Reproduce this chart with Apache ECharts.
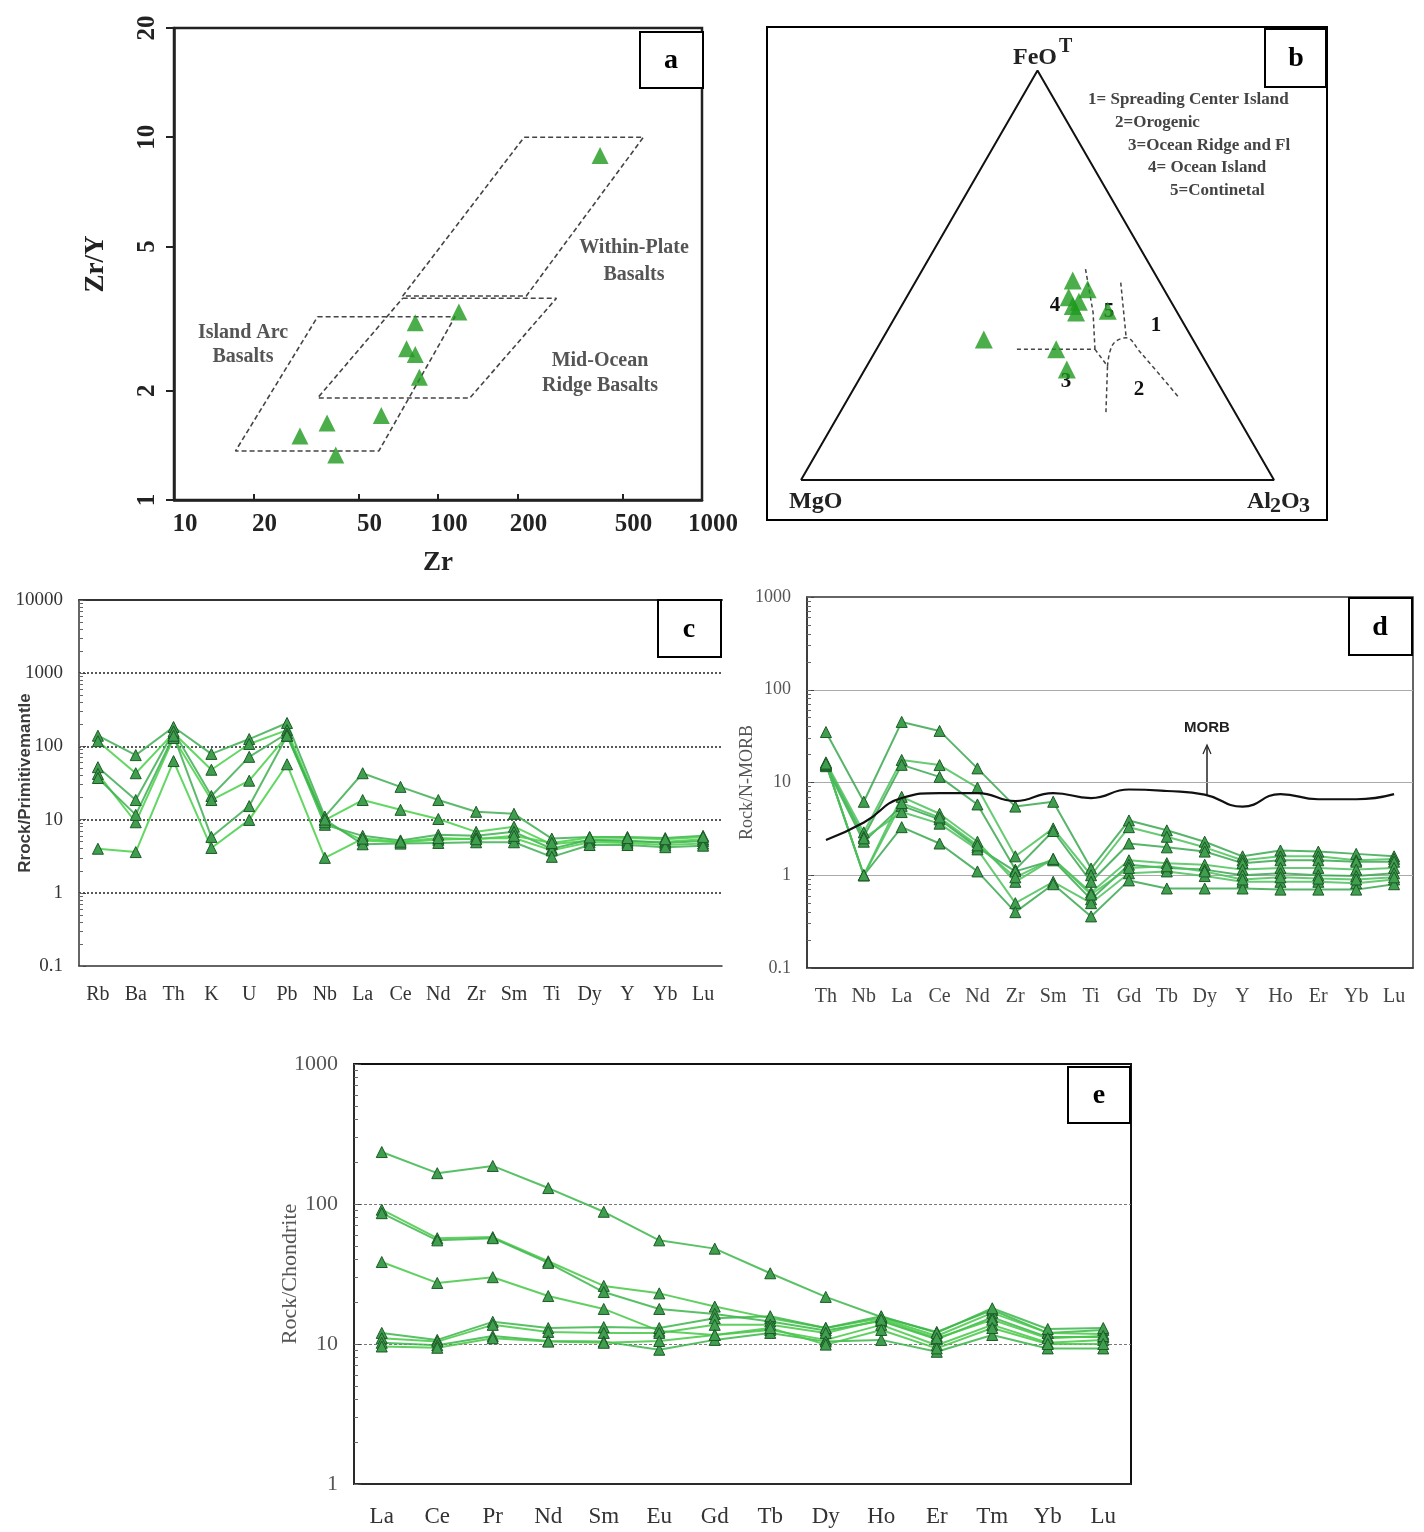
<!DOCTYPE html>
<html>
<head>
<meta charset="utf-8">
<script src="https://cdn.jsdelivr.net/npm/echarts@6/dist/echarts.min.js"></script>
<style>
  html, body { margin: 0; padding: 0; background: #fff; }
  #chart { width: 1424px; height: 1532px; }
</style>
</head>
<body>
<div id="chart"></div>
<script>
// ---- panel a : Zr vs Zr/Y ----
const aZr = [411, 120, 82, 76, 82, 85, 61, 38, 30, 41]
const aZrY = [8.9, 3.3, 3.08, 2.61, 2.52, 2.18, 1.71, 1.63, 1.5, 1.33]
const aWPB = [[212, 10], [600, 10], [216, 3.65], [73.5, 3.65], [212, 10]]
const aMORB = [[73.5, 3.6], [281, 3.6], [132, 1.91], [35, 1.91], [73.5, 3.6]]
const aIAB = [[35, 3.2], [116, 3.2], [59.7, 1.365], [17.1, 1.365], [35, 3.2]]
const aXTicks = [10, 20, 50, 100, 200, 500, 1000]
const aYTicks = [1, 2, 5, 10, 20]

// ---- panel b : FeOT - MgO - Al2O3 (wt% ratios) ----
const bFeO = [48.7, 46.6, 44.6, 42.5, 40.9, 41.3, 34.3, 31.9, 27.0, 43.5]
const bMgO = [18.2, 16.1, 21.1, 21.3, 21.4, 14.5, 44.2, 30.1, 30.3, 19.5]
const bAl2O3 = [33.1, 37.3, 34.3, 36.2, 37.7, 44.2, 21.5, 38.0, 42.7, 37.0]
// boundary lines as [FeO, MgO, Al2O3]
const bLineA = [[51.5, 14.1, 34.4], [40.9, 17.8, 41.3], [31.9, 21.9, 46.2]]
const bLineB = [[31.9, 38.4, 29.7], [31.9, 21.9, 46.2]]
const bLineC = [[31.9, 21.9, 46.2], [27.8, 21.3, 50.9], [15.9, 27.6, 56.5]]
const bLineD = [[27.8, 21.3, 50.9], [33.1, 17.5, 49.4], [34.7, 13.9, 51.4], [31.3, 12.7, 56.0], [20.4, 10.1, 69.5]]
const bLineE = [[48.2, 8.3, 43.5], [34.7, 13.9, 51.4]]

// ---- panel c : primitive mantle normalised ----
const cCats = ['Rb', 'Ba', 'Th', 'K', 'U', 'Pb', 'Nb', 'La', 'Ce', 'Nd', 'Zr', 'Sm', 'Ti', 'Dy', 'Y', 'Yb', 'Lu']
const c1 = [140, 76, 184, 79, 126, 209, 11, 43, 28, 18.5, 12.8, 12, 5.5, 5.8, 5.8, 5.6, 6.0]
const c2 = [118, 43, 152, 48, 108, 167, 9.8, 18.5, 13.6, 10.2, 6.8, 8.0, 4.6, 5.2, 5.0, 5.0, 5.4]
const c3 = [52, 18.5, 160, 21, 72, 150, 8.5, 6.0, 5.2, 6.2, 6.0, 6.8, 4.0, 5.3, 5.2, 4.8, 5.1]
const c4 = [42, 9.2, 130, 18.5, 34, 139, 9.2, 5.2, 4.9, 5.3, 5.5, 5.6, 3.8, 4.9, 4.8, 4.5, 4.7]
const c5 = [37, 11.6, 140, 5.8, 15.3, 140, 10, 4.6, 4.7, 4.8, 4.9, 4.9, 3.1, 4.5, 4.5, 4.2, 4.4]
const c6 = [4.0, 3.6, 63, 4.1, 9.9, 57, 3.0, 5.5, 5.0, 5.6, 5.4, 6.0, 4.8, 5.7, 5.6, 5.4, 5.8]

// ---- panel d : N-MORB normalised ----
const dCats = ['Th', 'Nb', 'La', 'Ce', 'Nd', 'Zr', 'Sm', 'Ti', 'Gd', 'Tb', 'Dy', 'Y', 'Ho', 'Er', 'Yb', 'Lu']
const dMorb = [2.4, 3.7, 6.8, 7.7, 7.7, 6.3, 7.7, 6.8, 8.4, 8.1, 7.4, 5.5, 7.5, 6.6, 6.6, 7.5]
const d1 = [35, 6.2, 45, 36, 14.2, 5.5, 6.2, 1.18, 3.9, 3.05, 2.3, 1.6, 1.85, 1.8, 1.7, 1.6]
const d2 = [16.5, 2.9, 17.5, 15.4, 8.8, 1.6, 3.2, 1.0, 3.3, 2.6, 2.0, 1.45, 1.6, 1.6, 1.45, 1.5]
const d3 = [15.5, 2.6, 15.5, 11.5, 5.8, 1.15, 3.0, 0.85, 2.2, 2.0, 1.8, 1.35, 1.45, 1.45, 1.4, 1.4]
const d4 = [16, 1.0, 7.0, 4.6, 2.3, 0.85, 1.5, 0.65, 1.45, 1.35, 1.3, 1.15, 1.2, 1.2, 1.15, 1.2]
const d5 = [15, 2.3, 5.6, 4.0, 2.0, 1.1, 1.45, 0.55, 1.3, 1.2, 1.15, 1.0, 1.05, 1.0, 0.98, 1.05]
const d6 = [15.5, 2.5, 4.8, 3.6, 1.9, 0.5, 0.85, 0.5, 1.05, 1.1, 0.98, 0.85, 0.85, 0.85, 0.82, 0.9]
const d7 = [16, 1.0, 3.3, 2.2, 1.1, 0.4, 0.8, 0.36, 0.88, 0.72, 0.72, 0.72, 0.7, 0.7, 0.7, 0.8]
const d8 = [16, 1.0, 6.0, 4.2, 2.1, 0.95, 1.5, 0.62, 1.2, 1.25, 1.1, 0.9, 0.95, 0.92, 0.9, 0.95]

// ---- panel e : chondrite normalised REE ----
const eCats = ['La', 'Ce', 'Pr', 'Nd', 'Sm', 'Eu', 'Gd', 'Tb', 'Dy', 'Ho', 'Er', 'Tm', 'Yb', 'Lu']
const e1 = [235, 166, 187, 130, 88, 55, 48, 32, 21.7, 15.6, 12.2, 17.5, 12.0, 12.6]
const e2 = [91, 57, 58, 39, 26, 23, 18.5, 15.3, 13, 15.3, 11.4, 16.7, 12, 11.8]
const e3 = [86, 55, 57, 38, 23.5, 17.8, 16.4, 14.5, 12.5, 14.6, 10.8, 15.5, 11.2, 11.2]
const e4 = [38.5, 27.3, 30, 22, 17.8, 12.4, 11.6, 12.6, 10.7, 13.7, 9.8, 13.7, 10.2, 10.7]
const e5 = [12, 10.7, 14.4, 13, 13.2, 13, 15.3, 15.8, 13, 15.8, 12, 18, 12.8, 13]
const e6 = [11, 10.4, 13.7, 12.2, 12, 12, 13.7, 13.7, 12, 14.9, 11, 14.9, 11, 11.4]
const e7 = [10.2, 9.8, 11.4, 10.5, 10.4, 9.1, 10.7, 12, 10.4, 10.7, 8.8, 11.6, 9.3, 9.3]
const e8 = [9.6, 9.4, 11, 10.4, 10.2, 10.5, 11.6, 13, 9.9, 12.6, 9.3, 13, 10, 10]

const SERIF = '"Liberation Serif", "DejaVu Serif", serif'
const SANS = '"Liberation Sans", Arial, sans-serif'
const GREEN = '#1e9a1e'

// ternary -> cartesian (MgO at left, Al2O3 at right, FeOT on top)
const tern = (fe, mg, al) => {
  const s = fe + mg + al
  return [(al + fe / 2) / s, (fe * Math.sqrt(3) / 2) / s]
}

// minor tick positions on log axes
const minorTicks = (lo, hi) => {
  const out = []
  for (let p = lo; p < hi; p++) {
    for (let k = 1; k <= 9; k++) out.push(+(k * Math.pow(10, p)).toPrecision(3))
  }
  out.push(Math.pow(10, hi))
  return out
}

const plain = v => String(+(+v).toPrecision(6))

const chart = echarts.init(document.getElementById('chart'), null, { renderer: 'canvas' })

const profile = (name, xi, yi, data, color) => ({
  name,
  type: 'line',
  xAxisIndex: xi,
  yAxisIndex: yi,
  data,
  symbol: 'triangle',
  symbolSize: 11,
  lineStyle: { color, width: 2, opacity: 0.85 },
  itemStyle: { color: '#3f9f4f', borderColor: '#1c5a26', borderWidth: 1 },
  z: 3
})

const dashed = (name, xi, yi, data) => ({
  name,
  type: 'line',
  xAxisIndex: xi,
  yAxisIndex: yi,
  data,
  symbol: 'none',
  lineStyle: { color: '#444', width: 1.6, type: [5, 3] },
  z: 2
})

const catAxis = (grid, cats, fontSize, color, margin) => ({
  type: 'category',
  gridIndex: grid,
  data: cats,
  boundaryGap: true,
  axisLine: { lineStyle: { color: '#333', width: 1.5 } },
  axisTick: { inside: true, alignWithLabel: true, length: 5, lineStyle: { color: '#666' } },
  axisLabel: { fontFamily: SERIF, fontSize, color, margin },
  splitLine: { show: false }
})

const logAxis = (grid, min, max, fontSize, color, split, extra) => Object.assign({
  type: 'log',
  logBase: 10,
  gridIndex: grid,
  position: 'left',
  min,
  max,
  nameMoveOverlap: false,
  axisLine: { show: true, lineStyle: { color: '#333', width: 1.5 } },
  axisTick: { show: true, inside: true, length: 7, lineStyle: { color: '#444' } },
  axisLabel: { fontFamily: SERIF, fontSize, color, margin: 16, formatter: plain },
  splitLine: { show: true, showMinLine: false, showMaxLine: false, lineStyle: split }
}, extra)

const minorAxis = (grid, min, max, lo, hi) => ({
  type: 'log',
  logBase: 10,
  gridIndex: grid,
  position: 'left',
  min,
  max,
  axisLine: { show: false },
  axisLabel: { show: false },
  splitLine: { show: false },
  axisTick: { show: true, inside: true, length: 4, customValues: minorTicks(lo, hi), lineStyle: { color: '#666' } }
})

const bTri = [tern(0, 100, 0), tern(0, 0, 100), tern(100, 0, 0), tern(0, 100, 0)]

const option = {
  backgroundColor: '#fff',
  animation: false,
  grid: [
    { left: 174, top: 28, width: 528, height: 472, show: true, borderColor: '#222', borderWidth: 2.5, outerBoundsMode: 'none', containLabel: false },
    { left: 801, top: 70.4, width: 473, height: 409.6, outerBoundsMode: 'none', containLabel: false },
    { left: 79, top: 600, width: 643, height: 366, outerBoundsMode: 'none', containLabel: false },
    { left: 807, top: 597, width: 606, height: 371, show: true, borderColor: '#333', borderWidth: 1.5, outerBoundsMode: 'none', containLabel: false },
    { left: 354, top: 1064, width: 777, height: 420, show: true, borderColor: '#111', borderWidth: 2, outerBoundsMode: 'none', containLabel: false }
  ],
  xAxis: [
    {
      type: 'log', logBase: 10, gridIndex: 0, min: 10, max: 1000,
      name: 'Zr', nameLocation: 'middle', nameGap: 50, nameMoveOverlap: false,
      nameTextStyle: { fontFamily: SERIF, fontWeight: 'bold', fontSize: 27, color: '#222' },
      axisLine: { lineStyle: { color: '#222', width: 2.5 } },
      axisTick: { inside: true, length: 6, customValues: aXTicks, lineStyle: { color: '#222', width: 2 } },
      axisLabel: { customValues: aXTicks, formatter: plain, fontFamily: SERIF, fontWeight: 'bold', fontSize: 25, color: '#222', margin: 12, padding: [0, 0, 0, 22] },
      splitLine: { show: false }
    },
    { type: 'value', gridIndex: 1, min: 0, max: 1, show: false },
    catAxis(2, cCats, 20, '#333', 19),
    { type: 'category', gridIndex: 2, position: 'top', data: cCats, axisLine: { lineStyle: { color: '#333', width: 2 } }, axisTick: { show: false }, axisLabel: { show: false } },
    catAxis(3, dCats, 20, '#444', 19),
    catAxis(4, eCats, 23, '#333', 21)
  ],
  yAxis: [
    {
      type: 'log', logBase: 10, gridIndex: 0, min: 1, max: 20,
      name: 'Zr/Y', nameLocation: 'middle', nameGap: 64, nameRotate: 90, nameMoveOverlap: false,
      nameTextStyle: { fontFamily: SERIF, fontWeight: 'bold', fontSize: 27, color: '#222' },
      axisLine: { lineStyle: { color: '#222', width: 2.5 } },
      axisTick: { inside: false, length: 8, customValues: aYTicks, lineStyle: { color: '#222', width: 2 } },
      axisLabel: { customValues: aYTicks, formatter: plain, rotate: 90, fontFamily: SERIF, fontWeight: 'bold', fontSize: 25, color: '#222', margin: 14 },
      splitLine: { show: false }
    },
    { type: 'value', gridIndex: 1, min: 0, max: Math.sqrt(3) / 2, show: false },
    logAxis(2, 0.1, 10000, 19, '#333', { color: '#222', type: [2, 2], width: 1.5 }, {
      name: 'Rrock/Primitivemantle', nameLocation: 'middle', nameGap: 45,
      nameTextStyle: { fontFamily: SANS, fontWeight: 'bold', fontSize: 17, color: '#3a3a3a' }
    }),
    minorAxis(2, 0.1, 10000, -1, 4),
    logAxis(3, 0.1, 1000, 18, '#555', { color: '#aaa', type: 'solid', width: 1.2 }, {
      name: 'Rock/N-MORB', nameLocation: 'middle', nameGap: 51,
      nameTextStyle: { fontFamily: SERIF, fontSize: 18, color: '#555' }
    }),
    minorAxis(3, 0.1, 1000, -1, 3),
    logAxis(4, 1, 1000, 22, '#555', { color: '#777', type: [3, 2], width: 1.2 }, {
      name: 'Rock/Chondrite', nameLocation: 'middle', nameGap: 53,
      nameTextStyle: { fontFamily: SERIF, fontSize: 22, color: '#555' }
    }),
    minorAxis(4, 1, 1000, 0, 3)
  ],
  series: [
    // panel a
    dashed('WPB', 0, 0, aWPB),
    dashed('MORB', 0, 0, aMORB),
    dashed('IAB', 0, 0, aIAB),
    {
      name: 'samples a', type: 'scatter', xAxisIndex: 0, yAxisIndex: 0,
      data: aZr.map((z, i) => [z, aZrY[i]]),
      symbol: 'triangle', symbolSize: 17, itemStyle: { color: GREEN }, z: 4
    },
    // panel b
    {
      name: 'triangle', type: 'line', xAxisIndex: 1, yAxisIndex: 1, data: bTri,
      symbol: 'none', lineStyle: { color: '#111', width: 2 }, z: 2
    },
    ...[bLineA, bLineB, bLineC, bLineD, bLineE].map((ln, i) => ({
      name: 'field ' + i, type: 'line', xAxisIndex: 1, yAxisIndex: 1,
      data: ln.map(p => tern(p[0], p[1], p[2])), smooth: i === 3 ? 0.4 : false,
      symbol: 'none', lineStyle: { color: '#444', width: 1.5, type: [4, 3] }, z: 2
    })),
    {
      name: 'samples b', type: 'scatter', xAxisIndex: 1, yAxisIndex: 1,
      data: bFeO.map((f, i) => tern(f, bMgO[i], bAl2O3[i])),
      symbol: 'triangle', symbolSize: 18, itemStyle: { color: GREEN }, z: 4
    },
    // panel c
    ...[c1, c2, c3, c4, c5, c6].map((d, i) => profile('c' + (i + 1), 2, 2, d, i % 2 ? '#46d046' : '#3fae52')),
    // panel d
    {
      name: 'N-MORB', type: 'line', xAxisIndex: 4, yAxisIndex: 4, data: dMorb,
      smooth: true, symbol: 'none', lineStyle: { color: '#111', width: 2.2 }, z: 5
    },
    ...[d1, d2, d3, d4, d5, d6, d7, d8].map((d, i) => profile('d' + (i + 1), 4, 4, d, i % 2 ? '#4cc25a' : '#3aa850')),
    // panel e
    ...[e1, e2, e3, e4, e5, e6, e7, e8].map((d, i) => profile('e' + (i + 1), 5, 6, d, i % 2 ? '#45c845' : '#3cb64a'))
  ],
  graphic: [
    // panel labels
    { type: 'rect', z: 10, shape: { x: 640, y: 32, width: 63, height: 56 }, style: { fill: '#fff', stroke: '#000', lineWidth: 2 } },
    { type: 'text', z: 11, x: 671, y: 61, style: { text: 'a', font: 'bold 28px ' + SERIF, fill: '#000', align: 'center', verticalAlign: 'middle' } },
    { type: 'rect', z: 1, shape: { x: 767, y: 27, width: 560, height: 493 }, style: { fill: 'none', stroke: '#000', lineWidth: 2 } },
    { type: 'rect', z: 10, shape: { x: 1265, y: 29, width: 61, height: 58 }, style: { fill: '#fff', stroke: '#000', lineWidth: 2 } },
    { type: 'text', z: 11, x: 1296, y: 59, style: { text: 'b', font: 'bold 28px ' + SERIF, fill: '#000', align: 'center', verticalAlign: 'middle' } },
    { type: 'rect', z: 10, shape: { x: 658, y: 600, width: 63, height: 57 }, style: { fill: '#fff', stroke: '#000', lineWidth: 2 } },
    { type: 'text', z: 11, x: 689, y: 630, style: { text: 'c', font: 'bold 28px ' + SERIF, fill: '#000', align: 'center', verticalAlign: 'middle' } },
    { type: 'rect', z: 10, shape: { x: 1349, y: 598, width: 63, height: 57 }, style: { fill: '#fff', stroke: '#000', lineWidth: 2 } },
    { type: 'text', z: 11, x: 1380, y: 628, style: { text: 'd', font: 'bold 28px ' + SERIF, fill: '#000', align: 'center', verticalAlign: 'middle' } },
    { type: 'rect', z: 10, shape: { x: 1068, y: 1067, width: 62, height: 56 }, style: { fill: '#fff', stroke: '#000', lineWidth: 2 } },
    { type: 'text', z: 11, x: 1099, y: 1096, style: { text: 'e', font: 'bold 28px ' + SERIF, fill: '#000', align: 'center', verticalAlign: 'middle' } },

    // panel a field names
    { type: 'text', x: 634, y: 261, style: { text: 'Within-Plate\nBasalts', font: 'bold 20px ' + SERIF, fill: '#555', align: 'center', verticalAlign: 'middle', lineHeight: 27 } },
    { type: 'text', x: 243, y: 345, style: { text: 'Island Arc\nBasalts', font: 'bold 20px ' + SERIF, fill: '#555', align: 'center', verticalAlign: 'middle', lineHeight: 24 } },
    { type: 'text', x: 600, y: 373, style: { text: 'Mid-Ocean\nRidge Basalts', font: 'bold 20px ' + SERIF, fill: '#555', align: 'center', verticalAlign: 'middle', lineHeight: 25 } },

    // panel b vertex names and legend
    { type: 'text', x: 1013, y: 58, style: { text: 'FeO', font: 'bold 24px ' + SERIF, fill: '#222', verticalAlign: 'middle' } },
    { type: 'text', x: 1059, y: 47, style: { text: 'T', font: 'bold 20px ' + SERIF, fill: '#222', verticalAlign: 'middle' } },
    { type: 'text', x: 789, y: 502, style: { text: 'MgO', font: 'bold 24px ' + SERIF, fill: '#222', verticalAlign: 'middle' } },
    { type: 'text', x: 1247, y: 502, style: { text: 'Al', font: 'bold 24px ' + SERIF, fill: '#222', verticalAlign: 'middle' } },
    { type: 'text', x: 1270, y: 506, style: { text: '2', font: 'bold 22px ' + SERIF, fill: '#222', verticalAlign: 'middle' } },
    { type: 'text', x: 1281, y: 502, style: { text: 'O', font: 'bold 24px ' + SERIF, fill: '#222', verticalAlign: 'middle' } },
    { type: 'text', x: 1299, y: 506, style: { text: '3', font: 'bold 22px ' + SERIF, fill: '#222', verticalAlign: 'middle' } },
    { type: 'text', x: 1088, y: 100, style: { text: '1= Spreading Center Island', font: 'bold 17px ' + SERIF, fill: '#444', verticalAlign: 'middle' } },
    { type: 'text', x: 1115, y: 123, style: { text: '2=Orogenic', font: 'bold 17px ' + SERIF, fill: '#444', verticalAlign: 'middle' } },
    { type: 'text', x: 1128, y: 146, style: { text: '3=Ocean Ridge and Fl', font: 'bold 17px ' + SERIF, fill: '#444', verticalAlign: 'middle' } },
    { type: 'text', x: 1148, y: 168, style: { text: '4= Ocean Island', font: 'bold 17px ' + SERIF, fill: '#444', verticalAlign: 'middle' } },
    { type: 'text', x: 1170, y: 191, style: { text: '5=Continetal', font: 'bold 17px ' + SERIF, fill: '#444', verticalAlign: 'middle' } },
    { type: 'text', x: 1156, y: 326, style: { text: '1', font: 'bold 21px ' + SERIF, fill: '#111', align: 'center', verticalAlign: 'middle' } },
    { type: 'text', x: 1139, y: 390, style: { text: '2', font: 'bold 21px ' + SERIF, fill: '#111', align: 'center', verticalAlign: 'middle' } },
    { type: 'text', x: 1066, y: 382, style: { text: '3', font: 'bold 21px ' + SERIF, fill: '#111', align: 'center', verticalAlign: 'middle' } },
    { type: 'text', x: 1055, y: 306, style: { text: '4', font: 'bold 21px ' + SERIF, fill: '#111', align: 'center', verticalAlign: 'middle' } },
    { type: 'text', x: 1109, y: 312, style: { text: '5', font: 'bold 21px ' + SERIF, fill: '#111', align: 'center', verticalAlign: 'middle' } },

    // panel d MORB note
    { type: 'text', x: 1207, y: 728, style: { text: 'MORB', font: 'bold 15px ' + SANS, fill: '#222', align: 'center', verticalAlign: 'middle' } },
    { type: 'line', shape: { x1: 1207, y1: 796, x2: 1207, y2: 747 }, style: { stroke: '#222', lineWidth: 1.5 } },
    { type: 'polyline', shape: { points: [[1203, 754], [1207, 745], [1211, 754]] }, style: { stroke: '#222', fill: 'none', lineWidth: 1.2 } }
  ]
}

chart.setOption(option)
</script>
</body>
</html>
